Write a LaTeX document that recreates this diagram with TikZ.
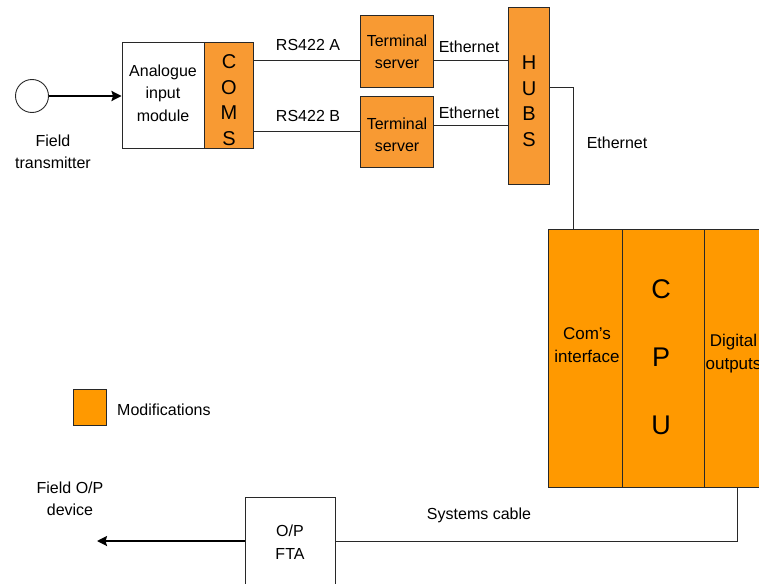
\documentclass[tikz,border=0pt]{standalone}
\usepackage{fontspec}
\setmainfont{Liberation Sans}
\usetikzlibrary{arrows.meta}
\definecolor{orA}{RGB}{248,154,51}
\definecolor{orB}{RGB}{255,153,0}
\definecolor{ln}{RGB}{40,40,40}
\tikzset{
  box/.style={draw=ln, line width=0.9pt, rectangle, inner sep=0pt},
  modA/.style={box, fill=orA},
  modB/.style={box, fill=orB},
  txt/.style={inner sep=0pt, align=center, font=\fontsize{16}{22.5}\selectfont},
  bigtxt/.style={inner sep=0pt, align=center, font=\fontsize{20}{25.5}\selectfont},
  wire/.style={draw=ln, line width=0.9pt},
  fat/.style={draw=black, line width=2.8pt, -{Stealth[length=10pt,width=10pt,inset=1.5pt]}},
}
\begin{document}
\begin{tikzpicture}[x=1pt,y=-1pt]
\useasboundingbox (0,0) rectangle (759,583);
\clip (0,0) rectangle (759,583);
% field transmitter
\node[draw=ln, line width=0.9pt, circle, minimum size=33pt, inner sep=0pt] (ft) at (32,96) {};
\node[txt] (ftl) at (53,152) {Field\\transmitter};
% analogue input module
\node[box, minimum width=82pt, minimum height=106pt] (ana) at (163,95) {};
\node[txt] (anal) at (163,93) {Analogue\\input\\module};
\node[modA, minimum width=49pt, minimum height=106pt] (coms) at (228.5,95) {};
\node[bigtxt] (comsl) at (229,100) {C\\O\\M\\S};
% terminal servers
\node[modA, minimum width=73pt, minimum height=72pt] (ts1) at (397,51) {};
\node[txt] (ts1l) at (397,52) {Terminal\\server};
\node[modA, minimum width=73pt, minimum height=71pt] (ts2) at (397,131.5) {};
\node[txt] (ts2l) at (397,135) {Terminal\\server};
% hubs
\node[modA, minimum width=41pt, minimum height=177pt] (hubs) at (528.5,95.5) {};
\node[bigtxt] (hubsl) at (529,101) {H\\U\\B\\S};
% CPU rack
\node[modB, minimum width=74pt, minimum height=258pt] (cif) at (585,358) {};
\node[modB, minimum width=82pt, minimum height=258pt] (cpu) at (663,358) {};
\node[modB, minimum width=59pt, minimum height=258pt] (dig) at (733.5,358) {};
\node[inner sep=0pt, align=center, font=\fontsize{17}{23}\selectfont] (cifl) at (587,345) {Com’s\\interface};
\node[inner sep=0pt, align=center, font=\fontsize{27}{68}\selectfont] (cpul) at (661,357) {C\\P\\U};
\node[inner sep=0pt, align=center, font=\fontsize{17}{23}\selectfont] (digl) at (733.5,354) {Digital\\outputs};
% legend
\node[modB, minimum width=33pt, minimum height=36pt] (leg) at (89.5,407) {};
\node[txt, anchor=west] (legl) at (117,410) {Modifications};
% O/P FTA
\node[box, minimum width=90pt, minimum height=110pt] (fta) at (290,552) {};
\node[txt] (ftal) at (290,542) {O/P\\FTA};
\node[txt] (fod) at (70,499) {Field O/P\\device};
\coordinate (fodend) at (97,541);
% connectors
\draw[fat] (ft.east) -- (ana.west |- ft.east);
\draw[wire] (coms.east |- 0,60) -- (ts1.west |- 0,60);
\draw[wire] (coms.east |- 0,131) -- (ts2.west |- 0,131);
\draw[wire] (ts1.east |- 0,60) -- (hubs.west |- 0,60);
\draw[wire] (ts2.east |- 0,125) -- (hubs.west |- 0,125);
\draw[wire] (hubs.east |- 0,87) -| (cif.north -| 573,0);
\draw[wire] (dig.south -| 737,0) |- (fta.east |- 0,541);
\draw[fat] (fta.west |- 0,541) -- (fodend);
% labels
\node[txt] (rsa) at (308,45) {RS422 A};
\node[txt] (rsb) at (308,116) {RS422 B};
\node[txt] (e1) at (469,47) {Ethernet};
\node[txt] (e2) at (469,113) {Ethernet};
\node[txt] (e3) at (617,143) {Ethernet};
\node[txt] (sc) at (479,515) {Systems cable};
\end{tikzpicture}
\end{document}
